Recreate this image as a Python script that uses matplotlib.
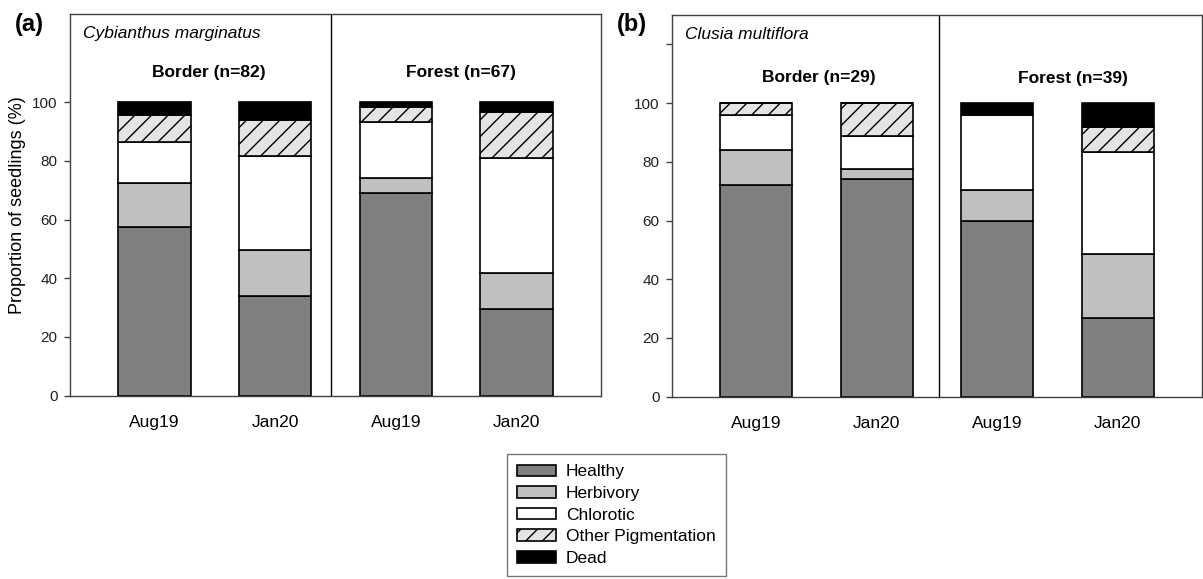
import matplotlib
matplotlib.use("Agg")
import matplotlib.pyplot as plt
from matplotlib.patches import Patch

plt.rcParams['font.family'] = ['Liberation Sans', 'DejaVu Sans']
plt.rcParams['hatch.linewidth'] = 1.0

dates = ['Aug19', 'Jan20', 'Aug19', 'Jan20']
categories = ['Healthy', 'Herbivory', 'Chlorotic', 'Other Pigmentation', 'Dead']

# (a) Cybianthus marginatus - segment heights (%) per bar
healthy_a = [57.3, 33.9, 69.2, 29.4]
herbivory_a = [15.2, 15.8, 5.1, 12.3]
chlorotic_a = [13.9, 31.8, 18.8, 39.4]
other_a = [9.3, 12.5, 5.2, 15.6]
dead_a = [4.3, 6.0, 1.7, 3.3]

# (b) Clusia multiflora
healthy_b = [72.0, 74.1, 59.8, 26.7]
herbivory_b = [12.0, 3.6, 10.7, 21.8]
chlorotic_b = [12.0, 11.2, 25.6, 34.9]
other_b = [4.0, 11.1, 0.0, 8.3]
dead_b = [0.0, 0.0, 3.9, 8.3]

species = ['Cybianthus marginatus', 'Clusia multiflora']
groups_a = ['Border (n=82)', 'Forest (n=67)']
groups_b = ['Border (n=29)', 'Forest (n=39)']

styles = [
    dict(color='#808080'),
    dict(color='#c0c0c0'),
    dict(color='white'),
    dict(color='#e4e4e4', hatch='//'),
    dict(color='black'),
]

fig = plt.figure(figsize=(12.03, 5.79), dpi=100)
ax_a = fig.add_axes([70 / 1203, 1 - 395.7 / 579, 531 / 1203, 381.7 / 579])
ax_b = fig.add_axes([672 / 1203, 1 - 396.7 / 579, 530 / 1203, 381.7 / 579])

spine_col = '#404040'


def draw(ax, series, sp, groups, gx, gy, divider, extra_tick):
    x = list(range(len(dates)))
    bottom = [0.0] * len(dates)
    for vals, st in zip(series, styles):
        ax.bar(x, vals, 0.6, bottom=bottom, facecolor=st['color'],
               hatch=st.get('hatch'), edgecolor='black', linewidth=1.2)
        bottom = [b + v for b, v in zip(bottom, vals)]
    ax.set_xlim(-0.7, 3.7)
    ax.set_ylim(0, 130)
    ticks = [0, 20, 40, 60, 80, 100]
    labels = [str(t) for t in ticks]
    if extra_tick:
        ticks.append(120)
        labels.append('')
    ax.set_yticks(ticks)
    ax.set_yticklabels(labels, fontsize=11, color='#202020')
    ax.set_xticks(x)
    ax.set_xticklabels(dates, fontsize=12.5)
    ax.tick_params(axis='x', length=0, pad=14)
    ax.tick_params(axis='y', length=4, width=1, color=spine_col, pad=5)
    for s in ax.spines.values():
        s.set_color(spine_col)
        s.set_linewidth(1.0)
    ax.axvline(divider, color='black', linewidth=1.0)
    ax.text(0.025, 0.948, sp, transform=ax.transAxes, fontsize=12.5,
            style='italic', ha='left', va='center')
    for g, xx, yy in zip(groups, gx, gy):
        ax.text(xx, yy, g, fontsize=12.5, fontweight='bold',
                ha='center', va='center')


draw(ax_a, [healthy_a, herbivory_a, chlorotic_a, other_a, dead_a],
     species[0], groups_a, [0.45, 2.54], [110, 110], 1.46, False)
draw(ax_b, [healthy_b, herbivory_b, chlorotic_b, other_b, dead_b],
     species[1], groups_b, [0.52, 2.63], [108.6, 108.3], 1.52, True)

ax_a.set_ylabel('Proportion of seedlings (%)', fontsize=13)
ax_a.yaxis.set_label_coords(-0.083, 0.5)

fig.text(15 / 1203, 1 - 24 / 579, '(a)', fontsize=17, fontweight='bold',
         ha='left', va='center')
fig.text(617 / 1203, 1 - 25 / 579, '(b)', fontsize=17, fontweight='bold',
         ha='left', va='center')

handles = [Patch(facecolor=st['color'], hatch=st.get('hatch'),
                 edgecolor='black', linewidth=1.2) for st in styles]
leg = fig.legend(handles, categories, loc='upper left',
                 bbox_to_anchor=(507 / 1203, 1 - 454 / 579),
                 fontsize=12.5, frameon=True, fancybox=False,
                 handlelength=2.25, handleheight=0.65, handletextpad=0.55,
                 labelspacing=0.38, borderpad=0.6, borderaxespad=0)
leg.get_frame().set_edgecolor('#555555')
leg.get_frame().set_linewidth(1.0)

fig.savefig('out.png', dpi=100)
